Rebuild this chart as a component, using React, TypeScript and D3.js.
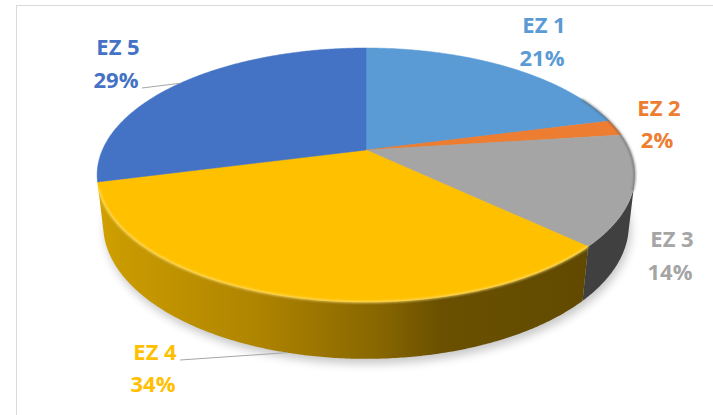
import React from 'react';
import * as d3 from 'd3';

// ---- data ----
const categories: string[] = ['EZ 1', 'EZ 2', 'EZ 3', 'EZ 4', 'EZ 5'];
const values: number[] = [21, 2, 14, 34, 29];
const colors: string[] = ['#5B9BD5', '#ED7D31', '#A5A5A5', '#FFC000', '#4472C4'];
const wallColors: string[] = ['#3A6A99', '#A5521C', '#404040', 'url(#wallGold)', '#2D4F8A'];

// ---- layout (label placement, not data) ----
const labelLayout = [
  { x: 544, yName: 33, yPct: 66 },
  { x: 659, yName: 116, yPct: 148 },
  { x: 672, yName: 247, yPct: 280 },
  { x: 155, yName: 360, yPct: 392 },
  { x: 118, yName: 55, yPct: 88 },
];
const leaders: { idx: number; x: number; y: number; rim: 'top' | 'bottom' }[] = [
  { idx: 4, x: 142, y: 88, rim: 'top' },
  { idx: 3, x: 180, y: 360, rim: 'bottom' },
];

const W = 713, H = 415;
const cx = 366, cy = 150, R = 263.6;
const sinA = 0.4632, cosA = Math.sqrt(1 - sinA * sinA);
const Dist = 4.5, depth = 0.215;

function project(phi: number, h: number, r = 1): [number, number] {
  const u = r * Math.sin(phi);
  const v = -r * Math.cos(phi);
  const zc = v * cosA + h * sinA;
  const ys = -v * sinA + h * cosA;
  const s = Dist / (Dist - zc);
  return [cx + R * u * s, cy - R * ys * s];
}

function arcPts(a0: number, a1: number, h: number): [number, number][] {
  const n = Math.max(2, Math.ceil(Math.abs(a1 - a0) / (Math.PI / 360)));
  return d3.range(n + 1).map((i) => project(a0 + ((a1 - a0) * i) / n, h));
}

const k = 1 / (Dist * cosA);
const vis0 = Math.acos(-k);
const vis1 = 2 * Math.PI - vis0;

export default function App() {
  const pie = d3.pie<number>().sort(null).startAngle(0).endAngle(2 * Math.PI);
  const arcs = pie(values);
  const line = d3.line();

  const tops = arcs.map((a) => {
    const pts = [project(0, 0, 0), ...arcPts(a.startAngle, a.endAngle, 0)];
    return line(pts) + 'Z';
  });

  const walls = arcs.map((a) => {
    const s = Math.max(a.startAngle, vis0);
    const e = Math.min(a.endAngle, vis1);
    if (e <= s) return null;
    const pts = [...arcPts(s, e, 0), ...arcPts(e, s, -depth)];
    return line(pts) + 'Z';
  });

  const shadowPath = line(arcPts(0, 2 * Math.PI, -depth)) + 'Z';
  const rimHighlight = line(arcPts(vis0 + 0.5, vis1 - 0.05, 0));
  const rimRight = line(arcPts(Math.PI * 0.35, Math.PI * 0.6, 0));

  return (
    <svg width={W} height={H} style={{ position: 'absolute', left: 0, top: 0, background: '#fff' }}
      fontFamily="'Open Sans', sans-serif">
      <defs>
        <linearGradient id="wallGold" gradientUnits="userSpaceOnUse" x1={96} x2={634} y1={0} y2={0}>
          <stop offset="0" stopColor="#D2A200" />
          <stop offset="0.05" stopColor="#C99A00" />
          <stop offset="0.29" stopColor="#B08500" />
          <stop offset="0.53" stopColor="#876600" />
          <stop offset="0.64" stopColor="#6A5000" />
          <stop offset="1" stopColor="#5E4800" />
        </linearGradient>
        <filter id="blur" x="-20%" y="-20%" width="140%" height="140%">
          <feGaussianBlur stdDeviation="5" />
        </filter>
        <filter id="blur2" x="-20%" y="-20%" width="140%" height="140%">
          <feGaussianBlur stdDeviation="1.2" />
        </filter>
      </defs>
      <rect x={16.5} y={5.5} width={W} height={H} fill="#fff" stroke="#D9D9D9" strokeWidth={1} />
      <path d={shadowPath} fill="#000" opacity={0.22} filter="url(#blur)" transform="translate(2,5)" />
      {walls.map((d, i) => (d ? <path key={'w' + i} d={d} fill={wallColors[i]} /> : null))}
      {tops.map((d, i) => (
        <path key={'t' + i} d={d} fill={colors[i]} stroke={colors[i]} strokeWidth={0.5} />
      ))}
      <path d={rimHighlight || ''} fill="none" stroke="#FFE27A" strokeWidth={2} opacity={0.8} filter="url(#blur2)" />
      <path d={rimRight || ''} fill="none" stroke="#555" strokeWidth={2} opacity={0.6} filter="url(#blur2)" />
      {leaders.map((l) => {
        const a = arcs[l.idx];
        const mid = (a.startAngle + a.endAngle) / 2;
        const p = project(mid, l.rim === 'top' ? 0 : -depth);
        return <line key={'l' + l.idx} x1={l.x} y1={l.y} x2={p[0]} y2={p[1]} stroke="#A6A6A6" strokeWidth={1} />;
      })}
      {categories.map((c, i) => (
        <g key={'lab' + i} fill={colors[i]} fontWeight={700} fontSize={22} textAnchor="middle">
          <text x={labelLayout[i].x} y={labelLayout[i].yName}>{c}</text>
          <text x={labelLayout[i].x - 2} y={labelLayout[i].yPct}>{d3.format('.0%')(arcs[i].value / d3.sum(values))}</text>
        </g>
      ))}
    </svg>
  );
}
